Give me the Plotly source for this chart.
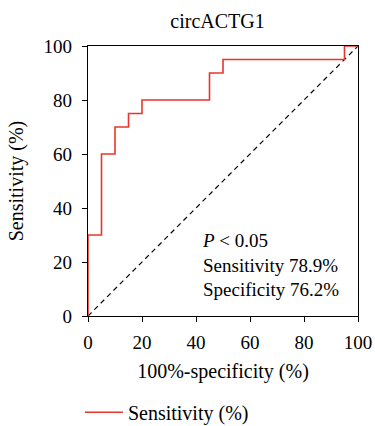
import plotly.graph_objects as go

fpr = [0, 0, 5, 10, 15, 20, 45, 50, 95, 100]
tpr = [0, 30, 60, 70, 75, 80, 90, 95, 100, 100]
diag = [0, 100]
ticks = [0, 20, 40, 60, 80, 100]
title = "circACTG1"
stats = ["<i>P</i> < 0.05", "Sensitivity 78.9%", "Specificity 76.2%"]

font = "Liberation Serif"
fig = go.Figure()
fig.add_trace(go.Scatter(x=diag, y=diag, mode="lines", showlegend=False,
                         line=dict(color="black", width=1.2, dash="5px,4px")))
fig.add_trace(go.Scatter(x=fpr, y=tpr, mode="lines", line_shape="hv",
                         name="Sensitivity (%)",
                         line=dict(color="#e8352b", width=1.6)))

axis_common = dict(range=[0, 100], tickvals=ticks, ticks="outside", ticklen=5,
                   tickwidth=1.2, tickcolor="black", showline=True, linecolor="black",
                   linewidth=1.2, mirror=True, showgrid=False, zeroline=False,
                   automargin=False,
                   tickfont=dict(family=font, size=19, color="black"))
fig.update_xaxes(**axis_common, ticklabelstandoff=4,
                 title=dict(text="100%-specificity (%)", standoff=12,
                            font=dict(family=font, size=20, color="black")))
fig.update_yaxes(**axis_common, ticklabelstandoff=6,
                 title=dict(text="Sensitivity (%)", standoff=14,
                            font=dict(family=font, size=20, color="black")))

fig.add_annotation(x=0.415, y=0.19, xref="paper", yref="paper", xanchor="left",
                   yanchor="middle", align="left", showarrow=False,
                   text="<br>".join(stats),
                   font=dict(family=font, size=19, color="black"))

fig.update_layout(
    width=375, height=426,
    margin=dict(l=88, r=17, t=46, b=110, autoexpand=False),
    plot_bgcolor="white", paper_bgcolor="white",
    title=dict(text=title, x=0.58, xanchor="center", y=0.951, yanchor="middle",
               font=dict(family=font, size=20, color="black")),
    legend=dict(orientation="h", x=-0.03, xanchor="left", y=-0.284, yanchor="top",
                itemwidth=38,
                font=dict(family=font, size=20, color="black")),
)
fig.write_html("out.html")
